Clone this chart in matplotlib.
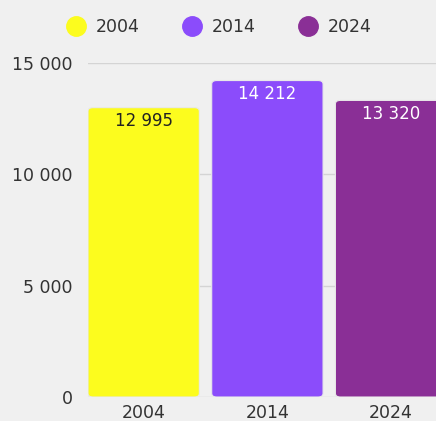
import matplotlib.pyplot as plt
from matplotlib.patches import FancyBboxPatch
from matplotlib.lines import Line2D

plt.rcParams['font.family'] = ['DejaVu Sans']

years = ['2004', '2014', '2024']
values = [12995, 14212, 13320]
colors = ['#fcfc1e', '#8b4cfb', '#8a2f96']
label_colors = ['#222222', 'white', 'white']

fig = plt.figure(figsize=(4.36, 4.21), dpi=100)
fig.patch.set_facecolor('#f0f0f0')
ax = fig.add_axes([88 / 436, (421 - 397) / 421, 1 - 88 / 436, (397 - 63) / 421])
ax.set_facecolor('#f0f0f0')

x = range(len(years))
bars = ax.bar(x, values, width=0.9, color=colors, zorder=2)

# rounded tops
for b, c in zip(bars, colors):
    b.set_visible(False)
    p = FancyBboxPatch((b.get_x(), 0), b.get_width(), b.get_height(),
                       boxstyle='round,pad=0,rounding_size=0.04',
                       mutation_aspect=4000, facecolor=c,
                       edgecolor='#e8e8e8', linewidth=0.8, zorder=2)
    ax.add_patch(p)

for i, v in enumerate(values):
    ax.text(i, v - 200, f'{v:,}'.replace(',', ' '), ha='center', va='top',
            fontsize=12, color=label_colors[i], zorder=3)

ax.set_xlim(-0.45, 2.363)
ax.set_ylim(0, 15000)
ax.set_yticks([0, 5000, 10000, 15000])
ax.set_yticklabels(['0', '5 000', '10 000', '15 000'])
ax.set_xticks(list(x))
ax.set_xticklabels(years)
ax.tick_params(axis='both', length=0, labelsize=12.5, labelcolor='#333333')
ax.tick_params(axis='y', pad=11)
ax.tick_params(axis='x', pad=5)
ax.grid(axis='y', color='#d4d4d4', linewidth=1, zorder=0)
for s in ax.spines.values():
    s.set_visible(False)

handles = [Line2D([], [], marker='o', linestyle='', markersize=14,
                  markerfacecolor=c, markeredgecolor=c) for c in colors]
fig.legend(handles, years, loc='center', bbox_to_anchor=(0.5, 1 - 27 / 421),
           ncol=3, frameon=False, fontsize=12.5, handletextpad=0.45,
           handlelength=1.4, columnspacing=2.3, labelcolor='#333333')

fig.savefig('out.png', dpi=100, facecolor=fig.get_facecolor())
